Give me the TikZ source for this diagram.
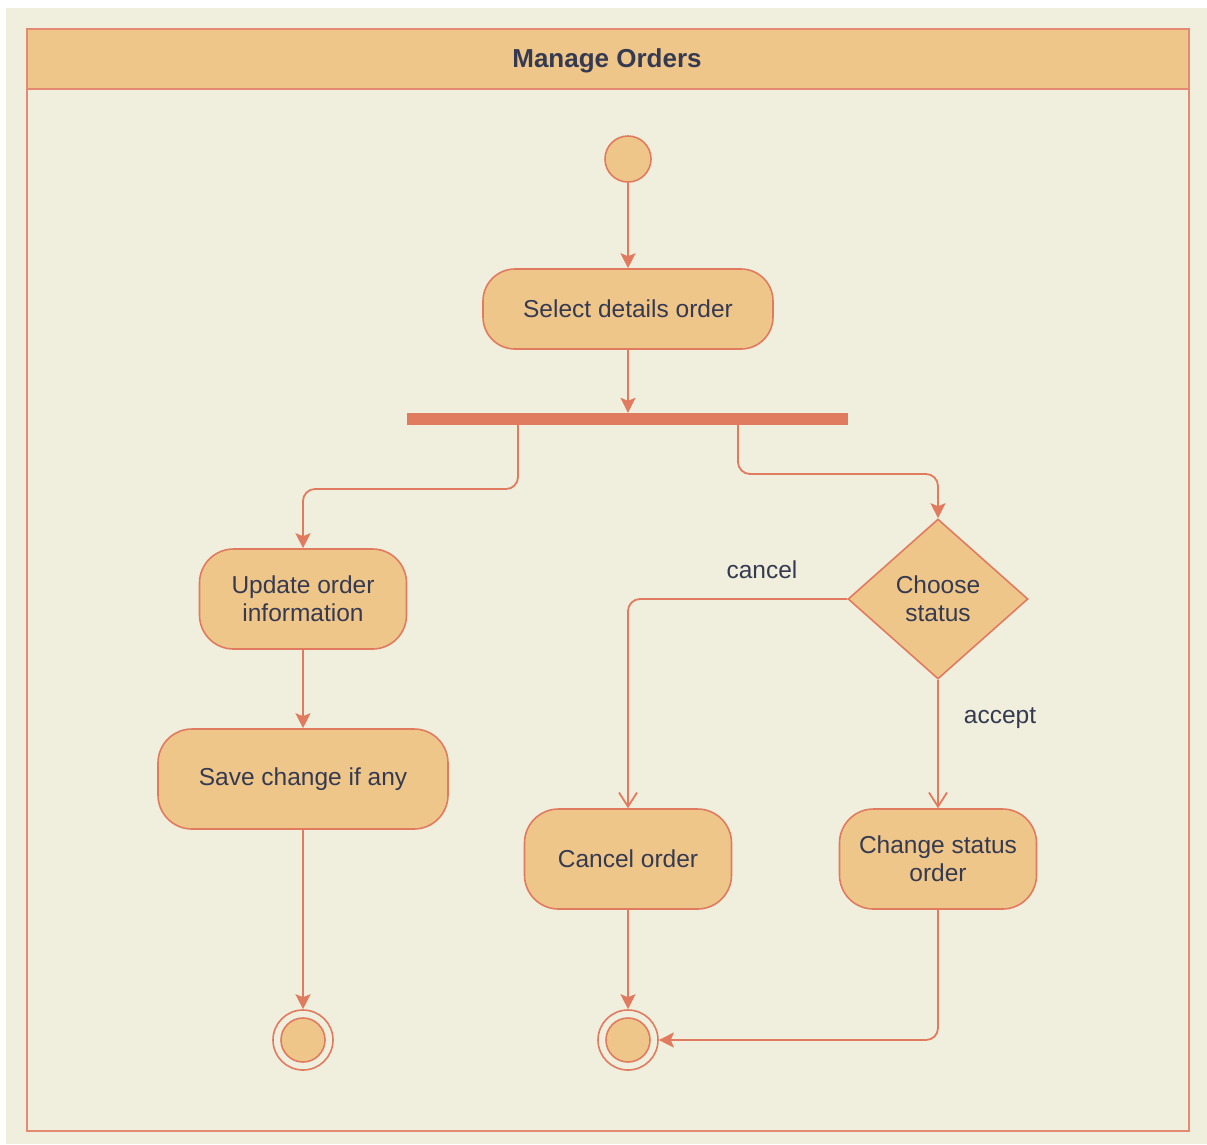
\documentclass[tikz,border=0pt]{standalone}
\usepackage{fontspec}
\setmainfont{Liberation Sans}
\usetikzlibrary{arrows.meta,shapes.geometric}
\definecolor{bgbeige}{HTML}{F0EEDC}
\definecolor{nodefill}{HTML}{EFC68A}
\definecolor{stroke}{HTML}{E07B60}
\definecolor{framec}{HTML}{E58A72}
\definecolor{txt}{HTML}{353A50}
\tikzset{
  act/.style={draw=stroke, fill=nodefill, line width=1.6pt, rounded corners=34pt,
    minimum height=100pt, align=center, text=txt, inner sep=0pt,
    font=\fontsize{24.5}{28}\selectfont},
  startnode/.style={circle, draw=stroke, fill=nodefill, line width=1.6pt, minimum size=46pt, inner sep=0pt},
  endouter/.style={circle, draw=stroke, line width=1.6pt, minimum size=60pt, inner sep=0pt},
  endinner/.style={circle, draw=stroke, fill=nodefill, line width=1.6pt, minimum size=44pt, inner sep=0pt},
  decision/.style={diamond, draw=stroke, fill=nodefill, line width=1.6pt, minimum width=180pt,
    minimum height=160pt, inner sep=0pt, align=center, text=txt, font=\fontsize{24.5}{28}\selectfont},
  flow/.style={draw=stroke, line width=1.8pt, rounded corners=12pt,
    -{Stealth[length=15pt,width=15pt,inset=3pt]}},
  oflow/.style={draw=stroke, line width=1.8pt, rounded corners=12pt,
    -{Straight Barb[length=14pt,width=18pt,line width=1.8pt]}},
  lbl/.style={text=txt, font=\fontsize{24.5}{28}\selectfont, inner sep=0pt},
}
\begin{document}
\begin{tikzpicture}[x=1pt,y=-1pt]
\useasboundingbox (0,0) rectangle (1207,1144);
\fill[white] (0,0) rectangle (1207,1144);
\fill[bgbeige] (6,8) rectangle (1207,1144);
% frame
\draw[framec, line width=2.6pt] (27,29) rectangle (1189,1131);
\filldraw[draw=framec, fill=nodefill, line width=2.6pt] (27,29) rectangle (1189,89);
\node[text=txt, font=\bfseries\fontsize{26}{30}\selectfont] (title) at (607,61) {Manage Orders};

% nodes
\node[startnode] (start) at (628,159) {};
\node[act, minimum width=290pt, minimum height=80pt, rounded corners=32pt] (sel) at (628,309) {Select details order};
\node[fill=stroke, minimum width=441pt, minimum height=12pt, inner sep=0pt] (bar) at (627.5,419) {};
\coordinate (b1) at (518,419);
\coordinate (b2) at (738,419);
\node[act, minimum width=207pt] (upd) at (303,599) {Update order\\information};
\node[act, minimum width=290pt] (save) at (303,779) {Save change if any};
\node[decision] (ch) at (938,599) {Choose\\status};
\node[act, minimum width=207pt] (can) at (628,859) {Cancel order};
\node[act, minimum width=197pt] (chg) at (938,859) {Change status\\order};
\node[endouter] (end1) at (303,1040) {};
\node[endinner] (end1i) at (303,1040) {};
\node[endouter] (end2) at (628,1040) {};
\node[endinner] (end2i) at (628,1040) {};
\node[lbl] (lcancel) at (762,570) {cancel};
\node[lbl] (laccept) at (1000,718) {accept};

% connectors
\draw[flow] (start) -- (sel);
\draw[flow] (sel) -- (sel.south |- bar.north);
\draw[flow] (b1) -- ++(0,70) -| (upd.north);
\draw[flow] (b2) -- ++(0,55) -| (ch.north);
\draw[flow] (upd) -- (save);
\draw[flow] (save) -- (end1);
\draw[oflow] (ch.west) -| (can.north);
\draw[oflow] (ch.south) -- (chg.north);
\draw[flow] (can) -- (end2);
\draw[flow] (chg.south) |- (end2.east);
\end{tikzpicture}
\end{document}
